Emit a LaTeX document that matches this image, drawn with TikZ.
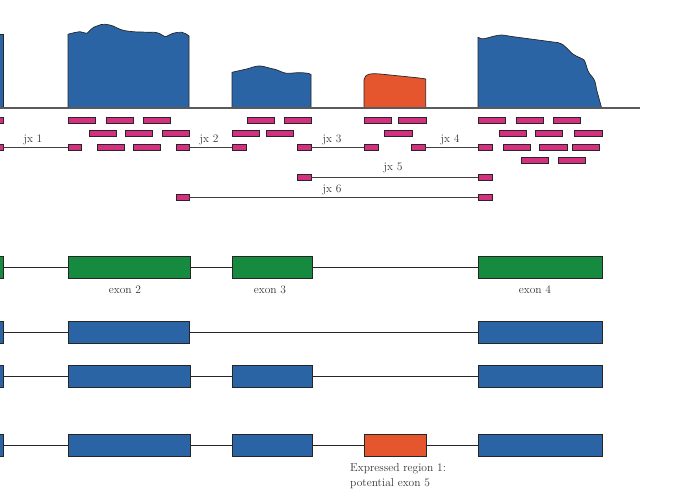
\documentclass[tikz,border=0pt]{standalone}
\usetikzlibrary{positioning}
\definecolor{covblue}{HTML}{2B64A5}
\definecolor{covorange}{HTML}{E5562E}
\definecolor{exgreen}{HTML}{168A3F}
\definecolor{readpink}{HTML}{D4307F}
\definecolor{basegray}{HTML}{5A5A5A}
\definecolor{txtgray}{HTML}{333333}
\begin{document}
\begin{tikzpicture}[x=1pt,y=-1pt,
  readbox/.style={draw=black!85, fill=readpink, minimum height=6pt, inner sep=0pt, line width=0.6pt},
  exbox/.style={draw=black!85, minimum height=22pt, inner sep=0pt, line width=0.7pt},
  blueex/.style={exbox, fill=covblue},
  greenex/.style={exbox, fill=exgreen},
  orangeex/.style={exbox, fill=covorange},
  cov/.style={draw=black!85, line width=0.7pt},
  jxline/.style={draw=black!75, line width=0.8pt},
  intron/.style={draw=black!85, line width=0.8pt},
  lbl/.style={text=txtgray, font=\fontsize{11.5}{15}\selectfont, inner sep=0pt}
]
\useasboundingbox (0,0) rectangle (680,500);
\clip (0,0) rectangle (680,500);

% coverage
\draw[cov, fill=covblue] (-5,108) -- (-5,34) -- (3,34) -- (3,108);
\draw[cov, fill=covblue] (68,108) -- (68,34.3)
  .. controls (72,33) and (77,32) .. (80,31.7)
  .. controls (83,31.5) and (85,34) .. (87,33.3)
  .. controls (90,31) and (92,27) .. (97,26)
  .. controls (100,24.5) and (103,24) .. (105,24.3)
  .. controls (108,24.5) and (110,25) .. (113,26)
  .. controls (117,28) and (121,30) .. (125,30.7)
  .. controls (130,31.5) and (135,32) .. (140,32)
  .. controls (148,32.3) and (154,32) .. (157,32.7)
  .. controls (161,33.5) and (164,37) .. (166,36.7)
  .. controls (168,36) and (170,34) .. (173,33.3)
  .. controls (176,32.5) and (179,32) .. (182,32.3)
  .. controls (185,33) and (188,35) .. (189,36)
  -- (189,108);
\draw[cov, fill=covblue] (232,108) -- (232,72.3)
  .. controls (238,71) and (242,70) .. (246.7,69)
  .. controls (251,68) and (256,65.5) .. (260.7,66)
  .. controls (265,66.5) and (270,68.5) .. (275,69.3)
  .. controls (279,70.5) and (283,73) .. (286.7,73.3)
  .. controls (291,73.5) and (296,72.5) .. (300,72.7)
  .. controls (304,72.8) and (309,73) .. (311,74.5)
  -- (311,108);
\draw[cov, fill=covorange] (364,108) -- (364,80)
  .. controls (364,77) and (366,75) .. (370,74)
  .. controls (374,73.5) and (377,73.8) .. (380,74)
  .. controls (390,75) and (400,76) .. (406.7,76.7)
  .. controls (414,77.5) and (421,78) .. (425.7,79)
  -- (425.7,108);
\draw[cov, fill=covblue] (478,108) -- (478,37.3)
  .. controls (480,38.5) and (482,39) .. (484,38.8)
  .. controls (490,37.5) and (496,35) .. (501.7,35)
  .. controls (505,35.2) and (509,36.2) .. (513.3,36.7)
  -- (558.3,42.7)
  .. controls (560,43.2) and (562,44) .. (563.3,45)
  .. controls (567,48) and (570,52) .. (573.3,54.3)
  .. controls (577,57) and (582,58) .. (584,60)
  .. controls (586,63) and (587,69) .. (588.3,71.7)
  .. controls (590,75) and (594,78) .. (595,81.7)
  .. controls (596,84) and (596,88) .. (596.7,90)
  -- (601.7,108.3);
% baseline
\draw[basegray, line width=1.3pt] (0,108) -- (640,108);

% reads row 1
\node[readbox, minimum width=13] (a0) at (-3.5,120) {};
\node[readbox, minimum width=27] (a1) at (81.5,120) {};
\node[readbox, minimum width=27] (a2) at (119.5,120) {};
\node[readbox, minimum width=27] (a3) at (156.5,120) {};
\node[readbox, minimum width=27] (a4) at (260.5,120) {};
\node[readbox, minimum width=27] (a5) at (297.5,120) {};
\node[readbox, minimum width=27] (a6) at (377.5,120) {};
\node[readbox, minimum width=28] (a7) at (412,120) {};
\node[readbox, minimum width=27] (a8) at (491.5,120) {};
\node[readbox, minimum width=27] (a9) at (529.5,120) {};
\node[readbox, minimum width=27] (a10) at (566.5,120) {};
% row 2
\node[readbox, minimum width=27] (b1) at (102.5,133) {};
\node[readbox, minimum width=27] (b2) at (138.5,133) {};
\node[readbox, minimum width=27] (b3) at (175.5,133) {};
\node[readbox, minimum width=27] (b4) at (245.5,133) {};
\node[readbox, minimum width=27] (b5) at (279.5,133) {};
\node[readbox, minimum width=28] (b6) at (398,133) {};
\node[readbox, minimum width=27] (b7) at (512.5,133) {};
\node[readbox, minimum width=27] (b8) at (548.5,133) {};
\node[readbox, minimum width=28] (b9) at (588,133) {};
% row 3
\node[readbox, minimum width=13] (c0) at (-3.5,147) {};
\node[readbox, minimum width=13] (c1) at (74.5,147) {};
\node[readbox, minimum width=27] (c2) at (110.5,147) {};
\node[readbox, minimum width=27] (c3) at (146.5,147) {};
\node[readbox, minimum width=13] (c4) at (182.5,147) {};
\node[readbox, minimum width=14] (c5) at (239,147) {};
\node[readbox, minimum width=14] (c6) at (304,147) {};
\node[readbox, minimum width=14] (c7) at (371,147) {};
\node[readbox, minimum width=14] (c8) at (418,147) {};
\node[readbox, minimum width=14] (c9) at (485,147) {};
\node[readbox, minimum width=27] (c10) at (516.5,147) {};
\node[readbox, minimum width=28] (c11) at (553,147) {};
\node[readbox, minimum width=27] (c12) at (585.5,147) {};
% row 4
\node[readbox, minimum width=27] (d1) at (534.5,160) {};
\node[readbox, minimum width=27] (d2) at (571.5,160) {};
% jx 5 / jx 6 reads
\node[readbox, minimum width=14] (e1) at (304,177) {};
\node[readbox, minimum width=14] (e2) at (485,177) {};
\node[readbox, minimum width=13] (f1) at (182.5,197) {};
\node[readbox, minimum width=14] (f2) at (485,197) {};

% junctions
\draw[jxline] (c0.east) -- (c1.west);
\draw[jxline] (c4.east) -- (c5.west);
\draw[jxline] (c6.east) -- (c7.west);
\draw[jxline] (c8.east) -- (c9.west);
\draw[jxline] (e1.east) -- (e2.west);
\draw[jxline] (f1.east) -- (f2.west);
\node[lbl] (jx1) at (33,140) {jx 1};
\node[lbl] (jx2) at (209,140) {jx 2};
\node[lbl] (jx3) at (332,140) {jx 3};
\node[lbl] (jx4) at (450,140) {jx 4};
\node[lbl] (jx5) at (393,168) {jx 5};
\node[lbl] (jx6) at (332,190) {jx 6};

% gene model A (green)
\node[greenex, minimum width=8] (g1) at (-1,267.5) {};
\node[greenex, minimum width=122] (g2) at (129,267.5) {};
\node[greenex, minimum width=80] (g3) at (272,267.5) {};
\node[greenex, minimum width=124] (g4) at (540,267.5) {};
\draw[intron] (g1.east) -- (g2.west);
\draw[intron] (g2.east) -- (g3.west);
\draw[intron] (g3.east) -- (g4.west);
\node[lbl] (l2) at (125,289.5) {exon 2};
\node[lbl] (l3) at (270,289.5) {exon 3};
\node[lbl] (l4) at (535,289.5) {exon 4};

% model B
\node[blueex, minimum width=8] (h1) at (-1,332) {};
\node[blueex, minimum width=121] (h2) at (128.5,332) {};
\node[blueex, minimum width=124] (h4) at (540,332) {};
\draw[intron] (h1.east) -- (h2.west);
\draw[intron] (h2.east) -- (h4.west);

% model C
\node[blueex, minimum width=8] (k1) at (-1,376) {};
\node[blueex, minimum width=122] (k2) at (129,376) {};
\node[blueex, minimum width=80] (k3) at (272,376) {};
\node[blueex, minimum width=124] (k4) at (540,376) {};
\draw[intron] (k1.east) -- (k2.west);
\draw[intron] (k2.east) -- (k3.west);
\draw[intron] (k3.east) -- (k4.west);

% model D
\node[blueex, minimum width=8] (m1) at (-1,445) {};
\node[blueex, minimum width=122] (m2) at (129,445) {};
\node[blueex, minimum width=80] (m3) at (272,445) {};
\node[orangeex, minimum width=62] (m5) at (395,445) {};
\node[blueex, minimum width=124] (m4) at (540,445) {};
\draw[intron] (m1.east) -- (m2.west);
\draw[intron] (m2.east) -- (m3.west);
\draw[intron] (m3.east) -- (m5.west);
\draw[intron] (m5.east) -- (m4.west);
\node[lbl, align=left, anchor=north west] (er) at (350,463) {Expressed region 1:\\potential exon 5};
\end{tikzpicture}
\end{document}
